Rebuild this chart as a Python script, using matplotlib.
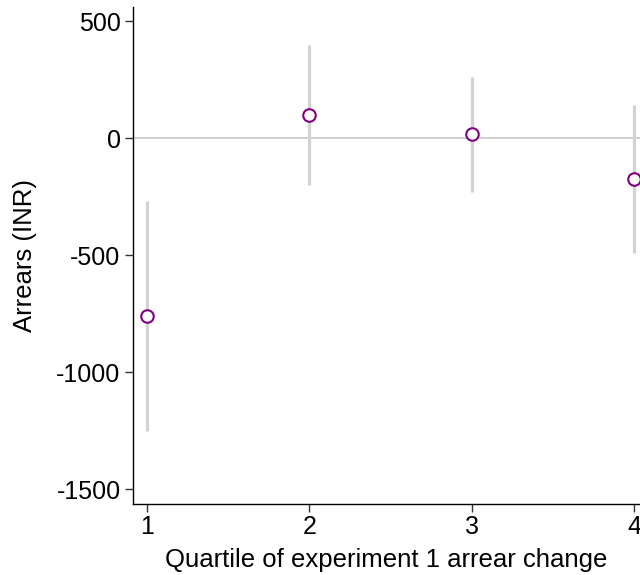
import matplotlib
matplotlib.use("Agg")
import matplotlib.pyplot as plt

quartiles = [1, 2, 3, 4]
estimates = [-761, 98, 17, -175]
ci_low = [-1251, -201, -231, -491]
ci_high = [-268, 397, 261, 141]
yticks = [500, 0, -500, -1000, -1500]
xticks = [1, 2, 3, 4]

plt.rcParams['font.family'] = ['Liberation Sans', 'DejaVu Sans']

fig = plt.figure(figsize=(6.4, 5.75), dpi=100)
W, H = 640, 575
left, right, top, bottom = 133, 640, 7, 504
ax = fig.add_axes([left / W, 1 - bottom / H, (right - left) / W, (bottom - top) / H])

ax.axhline(0, color='#c8c8c8', lw=1.2, zorder=1)
ax.vlines(quartiles, ci_low, ci_high, color='#d3d3d3', lw=2.3, zorder=2)
ax.plot(quartiles, estimates, 'o', mfc='white', mec='#800080', mew=1.5, ms=9, zorder=3)

ax.set_xlim(1 - 14 / 162.7, 4 + 6 / 162.7)
ax.set_ylim(-1564, 560)
ax.set_xticks(xticks)
ax.set_yticks(yticks)
ax.set_yticklabels([str(t) for t in yticks])

for s in ['top', 'right']:
    ax.spines[s].set_visible(False)
for s in ['left', 'bottom']:
    ax.spines[s].set_linewidth(1.0)
    ax.spines[s].set_color('black')

ax.tick_params(axis='both', length=6, width=1, color='#333333', labelsize=18, pad=3)
ax.tick_params(axis='x', pad=2)
ax.set_xlabel('Quartile of experiment 1 arrear change', fontsize=18.5, labelpad=6.5)
ax.set_ylabel('Arrears (INR)', fontsize=18.5, labelpad=14)

fig.savefig('out.png', dpi=100)
